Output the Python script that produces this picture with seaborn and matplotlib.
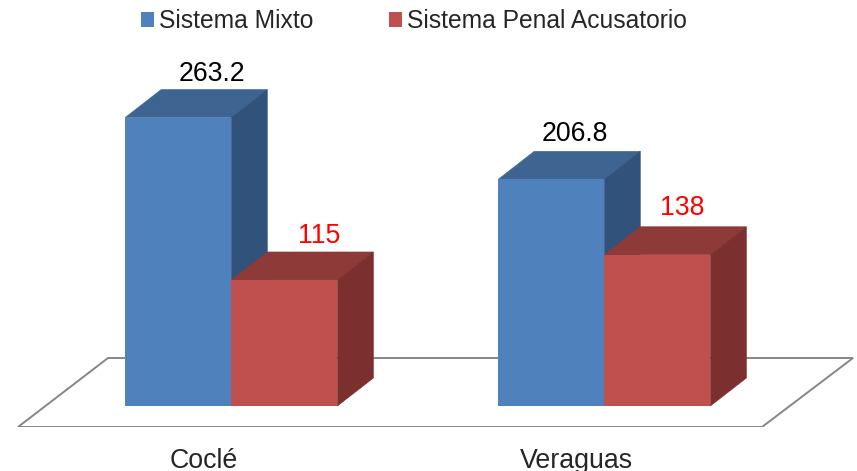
import seaborn as sns
import matplotlib.pyplot as plt
import pandas as pd
from matplotlib.patches import Polygon
from matplotlib.transforms import ScaledTranslation

regions = ["Coclé", "Veraguas"]
sistemas = ["Sistema Mixto", "Sistema Penal Acusatorio"]
mixto = [263.2, 206.8]
penal = [115, 138]
value_labels = [["263.2", "206.8"], ["115", "138"]]

front_colors = ["#4F81BD", "#C0504D"]
top_colors = ["#3E6491", "#8E3A38"]
side_colors = ["#31527A", "#7B2F2E"]
label_colors = ["black", "#FF0000"]

df = pd.DataFrame({
    "region": regions * 2,
    "sistema": [sistemas[0]] * 2 + [sistemas[1]] * 2,
    "value": mixto + penal,
})

W, H = 857, 471
base_px = 406
bottom_px = 427
px_per_val = 1.096
px_per_cat = 373
first_cat_px = 231.3
depth_x = 36 / px_per_cat
depth_y = 28 / px_per_val

sns.set_theme(style="white")
plt.rcParams["font.family"] = ["Liberation Sans", "DejaVu Sans"]

fig = plt.figure(figsize=(W / 100, H / 100), dpi=100)
ax = fig.add_axes([0, (H - bottom_px) / H, 1, bottom_px / H])

sns.barplot(data=df, x="region", y="value", hue="sistema", palette=front_colors,
            saturation=1, width=0.569, gap=0, linewidth=0, ax=ax)

ax.set_xlim(-first_cat_px / px_per_cat, (W - first_cat_px) / px_per_cat)
ax.set_ylim(-(bottom_px - base_px) / px_per_val, base_px / px_per_val)
sns.despine(ax=ax, left=True, bottom=True)
ax.set_xlabel("")
ax.set_ylabel("")
ax.set_yticks([])
ax.tick_params(axis="x", length=0, pad=15, labelsize=19.3)

# the category labels sit left of the bar groups in the original
shift = ScaledTranslation(-27.5 / 100, 0, fig.dpi_scale_trans)
for lab in ax.get_xticklabels():
    lab.set_transform(lab.get_transform() + shift)


def to_data(px, py):
    return (px - first_cat_px) / px_per_cat, (base_px - py) / px_per_val


# floor plate behind the bars
floor = Polygon([to_data(108, 358), to_data(853, 358), to_data(762, 427), to_data(18, 427)],
                closed=True, facecolor="white", edgecolor="#868686", linewidth=1.4, zorder=0.5)
ax.add_patch(floor)

# offsets of the value labels, in pixels
label_dx = [[34, 24], [35, 25]]
label_dy = [[37, 38], [37, 39.5]]

for i, container in enumerate(ax.containers):
    for j, bar in enumerate(container):
        x0 = bar.get_x()
        x1 = x0 + bar.get_width()
        h = bar.get_height()
        z = 2 + i * 2
        bar.set_zorder(z + 1)
        top = Polygon([(x0, h), (x1, h), (x1 + depth_x, h + depth_y), (x0 + depth_x, h + depth_y)],
                      closed=True, facecolor=top_colors[i], edgecolor=top_colors[i],
                      linewidth=0.4, zorder=z)
        side = Polygon([(x1, 0), (x1, h), (x1 + depth_x, h + depth_y), (x1 + depth_x, depth_y)],
                       closed=True, facecolor=side_colors[i], edgecolor=side_colors[i],
                       linewidth=0.4, zorder=z)
        ax.add_patch(top)
        ax.add_patch(side)
        ax.text((x0 + x1) / 2 + label_dx[i][j] / px_per_cat, h + label_dy[i][j] / px_per_val,
                value_labels[i][j], ha="center", va="baseline", fontsize=19.2,
                color=label_colors[i], zorder=10)

sns.move_legend(ax, "center", bbox_to_anchor=(414 / W, 1 - 21 / H),
                bbox_transform=fig.transFigure, ncol=2, title=None, frameon=False,
                fontsize=17.7, handlelength=0.53, handleheight=0.53,
                handletextpad=0.22, columnspacing=3.05, borderpad=0, borderaxespad=0)

fig.savefig("out.png", dpi=100)
